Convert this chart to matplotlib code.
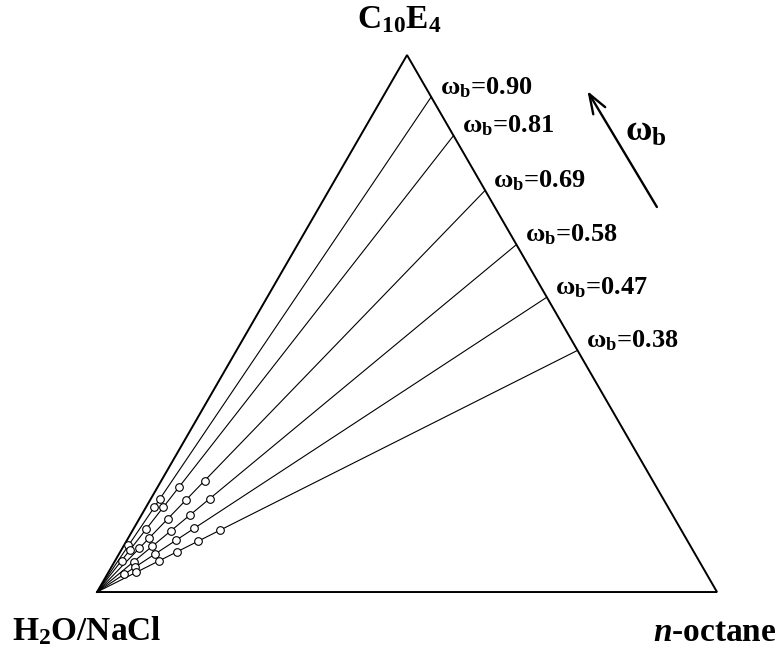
import numpy as np
import matplotlib
matplotlib.use("Agg")
import matplotlib.pyplot as plt

plt.rcParams['font.family'] = ['Liberation Serif', 'DejaVu Serif']
plt.rcParams['font.weight'] = 'bold'
plt.rcParams['mathtext.fontset'] = 'custom'
plt.rcParams['mathtext.rm'] = 'Liberation Serif:bold'
plt.rcParams['mathtext.it'] = 'Liberation Serif:italic:bold'
plt.rcParams['mathtext.bf'] = 'Liberation Serif:bold'

# omega_b of each cut and where it meets the oil/surfactant side
# (surfactant fraction of the binary end point)
omega_b = ['0.90', '0.81', '0.69', '0.58', '0.47', '0.38']
surf_end = [0.922, 0.850, 0.748, 0.647, 0.549, 0.450]

# measured samples on each cut: fraction of the oil+surfactant mixture
samples = [
    [0.094, 0.171, 0.188],
    [0.069, 0.093, 0.138, 0.186, 0.231],
    [0.109, 0.135, 0.182, 0.229, 0.277],
    [0.087, 0.132, 0.176, 0.222, 0.269],
    [0.061, 0.085, 0.128, 0.176, 0.216],
    [0.081, 0.129, 0.167, 0.210, 0.255],
]

vertex_labels = [r'H$_\mathrm{2}$O/NaCl', r'$n$-octane', r'C$_\mathrm{10}$E$_\mathrm{4}$']

h = np.sqrt(3) / 2


def tern(water, oil, surf):
    """ternary composition -> cartesian, water at (0,0), oil at (1,0)"""
    return oil + surf / 2, surf * h


fig = plt.figure(figsize=(7.81, 6.57), dpi=100)
ax = fig.add_axes([0, 0, 1, 1])
ax.set_xlim(-0.1565, 1.1032)
ax.set_ylim(-0.1048, 0.9548)
ax.axis('off')

# triangle
tri = np.array([[0, 0], [1, 0], [0.5, h], [0, 0]])
ax.plot(tri[:, 0], tri[:, 1], color='black', lw=1.4, solid_joinstyle='miter')

for lab, s, f in zip(omega_b, surf_end, samples):
    ex, ey = tern(0, 1 - s, s)
    ax.plot([0, ex], [0, ey], color='black', lw=0.8)
    f = np.array(f)
    px, py = tern(1 - f, f * (1 - s), f * s)
    ax.plot(px, py, 'o', ms=5.5, mfc='white', mec='black', mew=0.8, zorder=3)
    ax.annotate('ω$_\\mathrm{b}$=' + lab, (ex, ey), xytext=(6, 2),
                textcoords='offset points', ha='left', va='baseline', fontsize=19)

# vertex labels
ax.annotate(vertex_labels[0], (0, 0), xytext=(-61, -35), textcoords='offset points',
            ha='left', va='baseline', fontsize=24)
ax.annotate(vertex_labels[1], (1, 0), xytext=(43, -35), textcoords='offset points',
            ha='right', va='baseline', fontsize=24)
ax.annotate(vertex_labels[2], (0.5, h), xytext=(-6, 19), textcoords='offset points',
            ha='center', va='baseline', fontsize=24)

# direction of increasing omega_b
ax.annotate('', xy=(0.791, 0.808), xytext=(0.903, 0.621),
            arrowprops=dict(arrowstyle='->,head_length=1.4,head_width=0.5',
                            color='black', lw=1.7, shrinkA=0, shrinkB=0))
ax.text(0.852, 0.728, 'ω$_\\mathrm{b}$', fontsize=26, ha='left', va='baseline')

fig.savefig('out.png', dpi=100)
